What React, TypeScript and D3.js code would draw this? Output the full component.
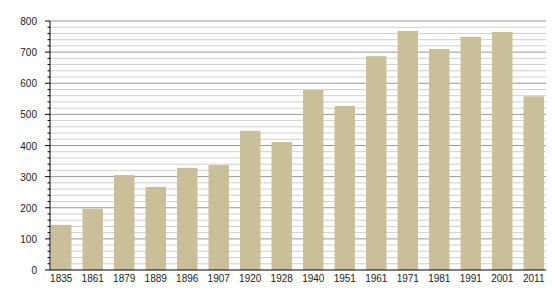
import React from "react";
import * as d3 from "d3";

const years = ["1835","1861","1879","1889","1896","1907","1920","1928","1940","1951","1961","1971","1981","1991","2001","2011"];
const population = [145,197,305,267,328,337,447,411,578,527,687,768,710,749,765,558];
const yTicks = [0,100,200,300,400,500,600,700,800];

export default function App() {
  const W = 555, H = 300;
  const left = 50, right = 546, top = 21, bottom = 270;
  const y = d3.scaleLinear().domain([0, 800]).range([bottom, top]);
  const x = d3.scaleBand<string>().domain(years).range([51, 544]).paddingInner(0.35).paddingOuter(0);
  const minor = d3.range(0, 801, 20).filter((v) => v % 100 !== 0);
  const font = "'Liberation Sans', Arial, sans-serif";
  return (
    <svg width={W} height={H} style={{ position: "absolute", left: 0, top: 0 }}>
      <rect width={W} height={H} fill="#fff" />
      {minor.map((v) => (
        <line key={"m" + v} x1={left} x2={right} y1={y(v)} y2={y(v)} stroke="#cfcfcf" strokeWidth={1} />
      ))}
      {yTicks.filter((v) => v > 0).map((v) => (
        <line key={"M" + v} x1={left} x2={right} y1={y(v)} y2={y(v)} stroke="#999" strokeWidth={1} />
      ))}
      {years.map((yr, i) => (
        <rect key={yr} x={x(yr)} width={x.bandwidth()} y={y(population[i])} height={bottom - y(population[i])} fill="#c9bf99" />
      ))}
      <line x1={left} x2={left} y1={top} y2={bottom} stroke="#000" strokeWidth={1} />
      <line x1={left} x2={right} y1={bottom} y2={bottom} stroke="#000" strokeWidth={1.2} />
      {minor.map((v) => (
        <line key={"mt" + v} x1={left - 2.5} x2={left} y1={y(v)} y2={y(v)} stroke="#000" strokeWidth={1} />
      ))}
      {yTicks.map((v) => (
        <g key={"t" + v}>
          <line x1={left - 5} x2={left} y1={y(v)} y2={y(v)} stroke="#000" strokeWidth={1} />
          <text x={37} y={y(v) + 4} textAnchor="end" fontSize={10} fontFamily={font} fill="#222">{v}</text>
        </g>
      ))}
      {years.map((yr) => (
        <text key={"l" + yr} x={(x(yr) as number) + x.bandwidth() / 2} y={282} textAnchor="middle" fontSize={10} fontFamily={font} fill="#222">{yr}</text>
      ))}
    </svg>
  );
}
